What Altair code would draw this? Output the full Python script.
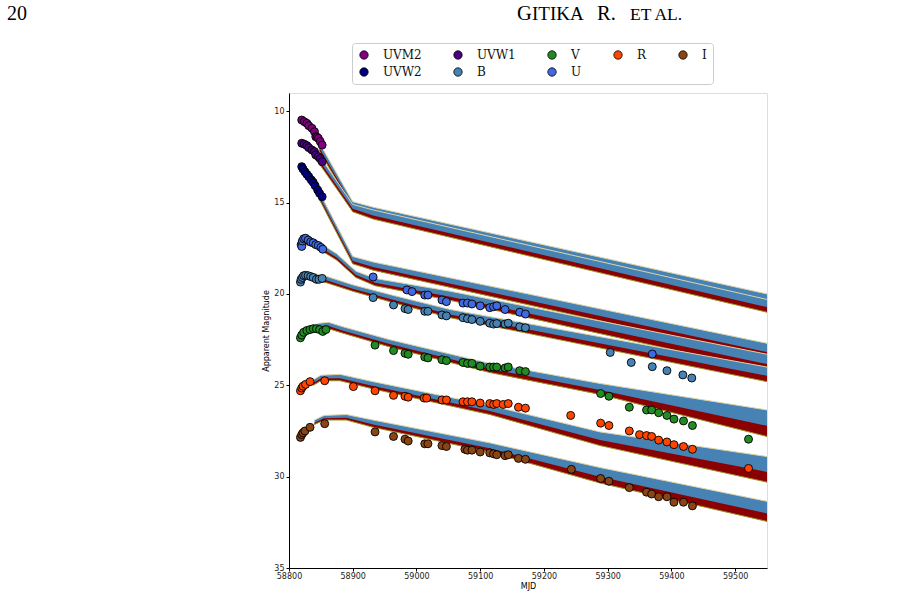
import altair as alt
import pandas as pd

# ---------------- legend / filters ----------------
legend_order = ["UVM2", "UVW1", "V", "R", "I", "UVW2", "B", "U"]
legend_colors = ["#800080", "#4B0082", "#228B22", "#FF4500", "#8B4513", "#000080", "#4682B4", "#4169E1"]
draw_order = ["UVM2", "UVW1", "UVW2", "U", "B", "V", "R", "I"]

# ---------------- observed photometry ----------------
uvm2_mjd = [58820, 58824, 58828, 58831, 58836, 58840, 58842, 58844, 58846, 58849, 58852]
uvm2_mag = [10.48, 10.57, 10.66, 10.79, 10.93, 11.12, 11.39, 11.42, 11.48, 11.65, 11.85]

uvw1_mjd = [58820, 58824, 58828, 58831, 58836, 58840, 58842, 58846, 58849, 58852]
uvw1_mag = [11.75, 11.80, 11.88, 11.99, 12.12, 12.21, 12.39, 12.49, 12.60, 12.76]

uvw2_mjd = [58820, 58822, 58825, 58828, 58831, 58835, 58838, 58841, 58845, 58848, 58852]
uvw2_mag = [13.03, 13.16, 13.31, 13.45, 13.58, 13.76, 13.89, 14.07, 14.31, 14.49, 14.68]

u_mjd = [58819, 58820, 58821, 58823, 58826, 58830, 58834, 58838, 58842, 58846, 58850, 58853,
         58932, 58985, 58993, 59013, 59018, 59040, 59047, 59073, 59080, 59087, 59100,
         59115, 59121, 59126, 59139, 59162, 59171, 59370]
u_mag = [17.30, 17.40, 17.10, 16.98, 16.95, 17.05, 17.15, 17.20, 17.30, 17.35, 17.45, 17.55,
         19.07, 19.78, 19.87, 20.06, 20.06, 20.33, 20.42, 20.50, 20.50, 20.55, 20.65,
         20.75, 20.70, 20.65, 20.85, 21.00, 21.10, 23.29]

b_mjd = [58818, 58819, 58821, 58823, 58826, 58830, 58834, 58838, 58843, 58847, 58852,
         58932, 58964, 58982, 58987, 59013, 59018, 59040, 59047, 59073, 59080, 59087,
         59100, 59115, 59121, 59126, 59139, 59144, 59162, 59171,
         59304, 59337, 59370, 59393, 59418, 59432]
b_mag = [19.35, 19.20, 19.10, 19.00, 18.98, 19.00, 19.05, 19.10, 19.20, 19.20, 19.15,
         20.20, 20.60, 20.80, 20.85, 20.95, 20.95, 21.15, 21.20, 21.30, 21.35, 21.40,
         21.50, 21.60, 21.65, 21.62, 21.65, 21.60, 21.80, 21.85,
         23.20, 23.75, 23.98, 24.20, 24.43, 24.60]

v_mjd = [58818, 58820, 58823, 58828, 58833, 58838, 58843, 58848, 58853, 58858,
         58935, 58964, 58982, 58987, 59013, 59018, 59040, 59047, 59073, 59080, 59087,
         59100, 59115, 59121, 59126, 59139, 59144, 59162, 59171,
         59289, 59302, 59334, 59361, 59369, 59380, 59393, 59404, 59419, 59433, 59521]
v_mag = [22.40, 22.25, 22.10, 22.00, 21.95, 21.90, 21.90, 21.95, 22.05, 21.95,
         22.80, 23.10, 23.25, 23.30, 23.45, 23.50, 23.60, 23.65, 23.75, 23.80, 23.80,
         23.95, 24.00, 24.00, 24.00, 24.05, 24.00, 24.20, 24.25,
         25.45, 25.60, 26.20, 26.35, 26.35, 26.50, 26.65, 26.85, 26.95, 27.20, 27.95]

r_mjd = [58818, 58820, 58822, 58826, 58833, 58856, 58901, 58935, 58964, 58982, 58987,
         59012, 59016, 59040, 59047, 59073, 59080, 59087, 59100, 59115, 59121, 59126,
         59136, 59144, 59160, 59171, 59242, 59289, 59302, 59334, 59350, 59361, 59369,
         59380, 59393, 59404, 59419, 59433, 59521]
r_mag = [25.30, 25.15, 25.05, 24.95, 24.80, 24.75, 25.07, 25.30, 25.55, 25.60, 25.65,
         25.70, 25.70, 25.80, 25.80, 25.90, 25.90, 25.90, 25.97, 26.00, 26.05, 26.00,
         26.05, 26.00, 26.20, 26.25, 26.65, 27.07, 27.20, 27.50, 27.70, 27.75, 27.80,
         28.00, 28.10, 28.25, 28.35, 28.50, 29.55]

i_mjd = [58818, 58820, 58822, 58825, 58833, 58856, 58935, 58964, 58982, 58987, 59013,
         59018, 59040, 59047, 59076, 59080, 59087, 59100, 59115, 59121, 59126, 59139,
         59144, 59160, 59171, 59243, 59289, 59302, 59334, 59361, 59369, 59380, 59393,
         59404, 59419, 59433]
i_mag = [27.85, 27.70, 27.60, 27.50, 27.30, 27.10, 27.55, 27.80, 27.95, 28.05, 28.20,
         28.20, 28.30, 28.35, 28.50, 28.55, 28.55, 28.65, 28.70, 28.75, 28.80, 28.85,
         28.80, 29.00, 29.05, 29.60, 30.10, 30.25, 30.60, 30.85, 30.95, 31.10, 31.10,
         31.40, 31.40, 31.60]

# ---------------- model bands (upper / lower envelope) ----------------
uvm2_band_mjd = [58848, 58900, 58932, 59550]
uvm2_band_upper = [11.75, 14.95, 15.25, 20.00]
uvm2_band_lower = [12.20, 15.30, 15.70, 20.60]

uvw1_band_mjd = [58848, 58900, 58932, 59550]
uvw1_band_upper = [12.45, 15.10, 15.40, 20.30]
uvw1_band_lower = [12.90, 15.50, 15.90, 21.00]

uvw2_band_mjd = [58848, 58900, 58932, 59550]
uvw2_band_upper = [14.45, 17.95, 18.25, 22.70]
uvw2_band_lower = [14.85, 18.35, 18.70, 23.50]

u_band_mjd = [58826, 58845, 58875, 58905, 58935, 59053, 59550]
u_band_upper = [17.00, 17.15, 17.80, 18.75, 19.15, 19.85, 23.30]
u_band_lower = [17.30, 17.50, 18.15, 19.10, 19.55, 20.35, 24.20]

b_band_mjd = [58830, 58860, 58900, 58966, 59053, 59550]
b_band_upper = [18.80, 19.05, 19.50, 20.10, 20.85, 24.00]
b_band_lower = [19.15, 19.40, 19.85, 20.50, 21.30, 24.80]

v_band_mjd = [58835, 58848, 58862, 58885, 58958, 59115, 59288, 59550]
v_band_upper = [21.75, 21.60, 21.55, 21.80, 22.50, 23.80, 24.90, 26.35]
v_band_lower = [22.00, 21.90, 21.90, 22.15, 22.90, 24.30, 25.50, 27.80]

r_band_mjd = [58838, 58850, 58880, 58932, 59115, 59288, 59550]
r_band_upper = [24.70, 24.45, 24.40, 24.80, 26.10, 27.55, 28.90]
r_band_lower = [25.00, 24.75, 24.75, 25.20, 26.60, 28.30, 30.30]

i_band_mjd = [58840, 58855, 58890, 58932, 59115, 59288, 59550]
i_band_upper = [26.90, 26.65, 26.60, 26.90, 28.15, 29.50, 31.35]
i_band_lower = [27.15, 26.90, 26.90, 27.30, 28.65, 30.35, 32.45]

obs = {
    "UVM2": (uvm2_mjd, uvm2_mag), "UVW1": (uvw1_mjd, uvw1_mag), "UVW2": (uvw2_mjd, uvw2_mag),
    "U": (u_mjd, u_mag), "B": (b_mjd, b_mag), "V": (v_mjd, v_mag),
    "R": (r_mjd, r_mag), "I": (i_mjd, i_mag),
}
bands = {
    "UVM2": (uvm2_band_mjd, uvm2_band_upper, uvm2_band_lower),
    "UVW1": (uvw1_band_mjd, uvw1_band_upper, uvw1_band_lower),
    "UVW2": (uvw2_band_mjd, uvw2_band_upper, uvw2_band_lower),
    "U": (u_band_mjd, u_band_upper, u_band_lower),
    "B": (b_band_mjd, b_band_upper, b_band_lower),
    "V": (v_band_mjd, v_band_upper, v_band_lower),
    "R": (r_band_mjd, r_band_upper, r_band_lower),
    "I": (i_band_mjd, i_band_upper, i_band_lower),
}

# ---------------- encodings ----------------
xscale = alt.Scale(domain=[58800, 59550], nice=False, zero=False)
yscale = alt.Scale(domain=[9, 35], reverse=True, nice=False, zero=False)
xaxis = alt.Axis(values=list(range(58800, 59501, 100)), title="MJD", format="d",
                 grid=False, labelFont="DejaVu Sans", labelFontSize=8, titleFont="DejaVu Sans",
                 titleFontSize=8, titleFontWeight="normal", titlePadding=2, tickSize=3,
                 labelPadding=1, labelFlush=False, labelOverlap=False,
                 domainColor="black", tickColor="black", labelColor="#222")
yaxis = alt.Axis(values=[10, 15, 20, 25, 30, 35], title="Apparent Magnitude",
                 grid=False, labelFont="DejaVu Sans", labelFontSize=8, titleFont="DejaVu Sans",
                 titleFontSize=8, titleFontWeight="normal", titlePadding=3, tickSize=3,
                 labelPadding=2, labelFlush=False, labelOverlap=False,
                 domainColor="black", tickColor="black", labelColor="#222")


def xenc():
    return alt.X("mjd:Q", scale=xscale, axis=xaxis)


def yenc(field):
    return alt.Y(f"{field}:Q", scale=yscale, axis=yaxis)


layers = []
for f in draw_order:
    m, up, lo = bands[f]
    df = pd.DataFrame({"mjd": m, "upper": up, "lower": lo})
    df["mid"] = df["lower"] - 0.4 * (df["lower"] - df["upper"])
    base = alt.Chart(df)
    layers.append(base.mark_area(color="#4682b4", opacity=1, clip=True).encode(
        x=xenc(), y=yenc("upper"), y2="lower:Q"))
    layers.append(base.mark_area(color="#8b0000", opacity=1, clip=True).encode(
        x=xenc(), y=yenc("mid"), y2="lower:Q"))
    layers.append(base.mark_line(color="#9c9a2a", strokeWidth=1, clip=True).encode(
        x=xenc(), y=yenc("lower")))
    layers.append(base.mark_line(color="#ddd3a8", strokeWidth=1, clip=True).encode(
        x=xenc(), y=yenc("upper")))

rows = []
for f in draw_order:
    m, g = obs[f]
    for a, b in zip(m, g):
        rows.append({"filter": f, "mjd": a, "mag": b})
pts = pd.DataFrame(rows)

points = alt.Chart(pts).mark_point(filled=True, shape="circle", size=64, opacity=1,
                                   stroke="black", strokeWidth=0.9).encode(
    x=xenc(), y=yenc("mag"),
    color=alt.Color("filter:N", scale=alt.Scale(domain=legend_order, range=legend_colors),
                    legend=alt.Legend(title=None, orient="none", legendX=63, legendY=-50,
                                      columns=5, columnPadding=30, rowPadding=5,
                                      symbolType="circle", symbolSize=70,
                                      symbolStrokeColor="black", symbolStrokeWidth=0.8,
                                      labelFont="DejaVu Serif", labelFontSize=12,
                                      labelColor="#111", labelOffset=13,
                                      padding=6, fillColor="white", strokeColor="#cccccc",
                                      cornerRadius=3, direction="horizontal")),
    order=alt.Order("filter:N"),
)
layers.append(points)

# ---------------- page header ----------------
hdr = pd.DataFrame({"t": ["x"]})


def header(txt, x, size):
    return alt.Chart(hdr).mark_text(text=txt, align="left", baseline="alphabetic",
                                    font="Liberation Serif", fontSize=size, color="black").encode(
        x=alt.value(x), y=alt.value(-73))


layers += [header("20", -282, 20), header("G", 228, 20.5), header("ITIKA", 243, 19),
           header("R.", 308, 20.5), header("ET AL.", 341, 17.5)]

chart = alt.layer(*layers).properties(
    width=478, height=475,
    autosize=alt.AutoSizeParams(type="none"),
    padding={"left": 289, "top": 93, "right": 131, "bottom": 48},
).configure_view(stroke="black", strokeWidth=1).configure(background="white")

chart.save("out.html", embed_options={"renderer": "svg", "actions": False})
